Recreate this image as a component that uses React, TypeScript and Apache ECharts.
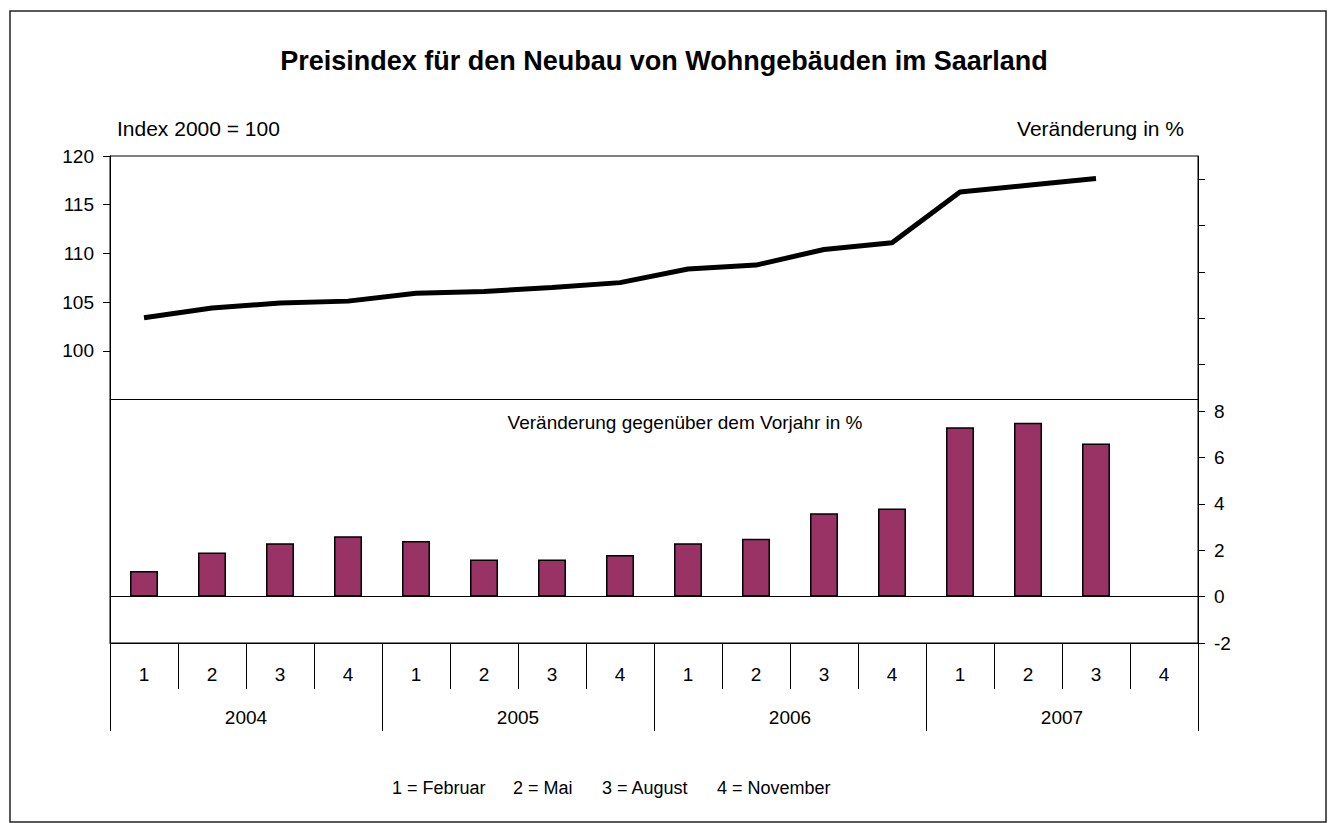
import React, { useEffect, useRef } from "react";
import * as echarts from "echarts";

const quarters = ["1", "2", "3", "4", "1", "2", "3", "4", "1", "2", "3", "4", "1", "2", "3", "4"];
const years = ["2004", "2005", "2006", "2007"];
const indexValues = [103.4, 104.4, 104.9, 105.1, 105.9, 106.1, 106.5, 107.0, 108.4, 108.8, 110.4, 111.1, 116.3, 117.0, 117.7];
const changeValues = [1.1, 1.9, 2.3, 2.6, 2.4, 1.6, 1.6, 1.8, 2.3, 2.5, 3.6, 3.8, 7.3, 7.5, 6.6];
const leftTickLabels = [100, 105, 110, 115, 120];
const rightTickLabels = [-2, 0, 2, 4, 6, 8];
const rightTicks = [-2, 0, 2, 4, 6, 8, 10, 12, 14, 16, 18];
const legendItems = ["1 = Februar", "2 = Mai", "3 = August", "4 = November"];

const FONT = "'Liberation Sans', Arial, Helvetica, sans-serif";

export default function App() {
  const ref = useRef<HTMLDivElement>(null);

  useEffect(() => {
    if (!ref.current) return;
    const chart = echarts.init(ref.current, undefined, { renderer: "svg" });
    const legendX = [392, 513, 602, 717];
    const option: any = {
      animation: false,
      backgroundColor: "#ffffff",
      textStyle: { fontFamily: FONT },
      grid: {
        left: 110,
        right: 131,
        top: 156,
        bottom: 180,
        show: true,
        borderColor: "#000",
        borderWidth: 1,
        backgroundColor: "transparent",
      },
      xAxis: [
        {
          type: "category",
          data: quarters,
          position: "bottom",
          boundaryGap: true,
          axisLine: { show: true, onZero: false, lineStyle: { color: "#000", width: 1 } },
          axisTick: { show: true, interval: 0, length: 46, lineStyle: { color: "#000", width: 1 } },
          axisLabel: { interval: 0, margin: 22, fontSize: 19, color: "#000", fontFamily: FONT },
          splitLine: { show: false },
        },
        {
          type: "category",
          data: years,
          position: "bottom",
          boundaryGap: true,
          axisLine: { show: false, onZero: false },
          axisTick: { show: true, interval: 0, length: 88, lineStyle: { color: "#000", width: 1 } },
          axisLabel: { interval: 0, margin: 65, fontSize: 19, color: "#000", fontFamily: FONT },
          splitLine: { show: false },
        },
      ],
      yAxis: [
        {
          type: "value",
          position: "left",
          min: 70,
          max: 120,
          interval: 5,
          axisLine: { show: true, onZero: false, lineStyle: { color: "#000", width: 1 } },
          axisTick: { show: true, length: 7, customValues: leftTickLabels, lineStyle: { color: "#000" } },
          axisLabel: { customValues: leftTickLabels, margin: 16, fontSize: 19, color: "#000", fontFamily: FONT },
          splitLine: { show: false },
        },
        {
          type: "value",
          position: "right",
          min: -2,
          max: 19,
          interval: 2,
          axisLine: { show: true, onZero: false, lineStyle: { color: "#000", width: 1 } },
          axisTick: { show: true, length: 7, customValues: rightTicks, lineStyle: { color: "#000" } },
          axisLabel: { customValues: rightTickLabels, margin: 16, fontSize: 19, color: "#000", fontFamily: FONT },
          splitLine: { show: false },
        },
      ],
      series: [
        {
          type: "bar",
          xAxisIndex: 0,
          yAxisIndex: 1,
          data: changeValues,
          barWidth: 28,
          itemStyle: { color: "#993366", borderColor: "#000", borderWidth: 1.5 },
          markLine: {
            silent: true,
            symbol: "none",
            label: { show: false },
            lineStyle: { color: "#000", width: 1, type: "solid" },
            data: [{ yAxis: 0 }],
          },
          z: 2,
        },
        {
          type: "line",
          xAxisIndex: 0,
          yAxisIndex: 0,
          data: indexValues,
          symbol: "none",
          lineStyle: { color: "#000", width: 5 },
          markLine: {
            silent: true,
            symbol: "none",
            label: { show: false },
            lineStyle: { color: "#000", width: 1, type: "solid" },
            data: [{ yAxis: 95 }],
          },
          z: 3,
        },
      ],
      graphic: [
        {
          type: "rect",
          shape: { x: 10, y: 11, width: 1316, height: 811 },
          style: { fill: "none", stroke: "#222", lineWidth: 1.5 },
          silent: true,
        },
        {
          type: "text",
          x: 664,
          y: 61,
          style: {
            text: "Preisindex für den Neubau von Wohngebäuden im Saarland",
            font: `bold 27px ${FONT}`,
            fill: "#000",
            textAlign: "center",
            textVerticalAlign: "middle",
          },
        },
        {
          type: "text",
          x: 117,
          y: 128,
          style: {
            text: "Index 2000 = 100",
            font: `21px ${FONT}`,
            fill: "#000",
            textAlign: "left",
            textVerticalAlign: "middle",
          },
        },
        {
          type: "text",
          x: 1184,
          y: 128,
          style: {
            text: "Veränderung in %",
            font: `21px ${FONT}`,
            fill: "#000",
            textAlign: "right",
            textVerticalAlign: "middle",
          },
        },
        {
          type: "text",
          x: 685,
          y: 422,
          style: {
            text: "Veränderung gegenüber dem Vorjahr in %",
            font: `19px ${FONT}`,
            fill: "#000",
            textAlign: "center",
            textVerticalAlign: "middle",
          },
        },
        ...legendItems.map((t, i) => ({
          type: "text",
          x: legendX[i],
          y: 788,
          style: {
            text: t,
            font: `18px ${FONT}`,
            fill: "#000",
            textAlign: "left",
            textVerticalAlign: "middle",
          },
        })),
      ],
    };
    chart.setOption(option);
    return () => chart.dispose();
  }, []);

  return (
    <div
      ref={ref}
      style={{ position: "fixed", left: 0, top: 0, width: 1329, height: 823, background: "#fff" }}
    />
  );
}
